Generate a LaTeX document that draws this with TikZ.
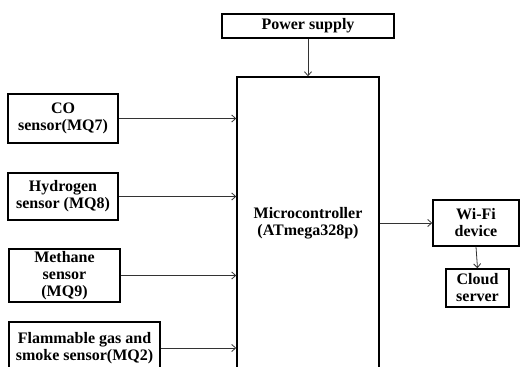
\documentclass[tikz,border=0pt]{standalone}
\usepackage{fontspec}
\setmainfont{Liberation Serif}
\usetikzlibrary{arrows.meta}
\begin{document}
\begin{tikzpicture}[x=1pt,y=-1pt,
  blk/.style={draw=black,line width=1.4pt,rectangle,inner sep=0pt,align=center,
    font=\fontsize{16}{17}\selectfont\bfseries},
  conn/.style={draw=black!80,line width=0.8pt,-{Straight Barb[length=4pt,width=7pt]}}]
\useasboundingbox (0,0) rectangle (520,367);
\node[blk,minimum width=172pt,minimum height=24pt] (ps) at (308,26) {Power supply};
\node[blk,minimum width=142pt,minimum height=292pt] (mc) at (308,223) {Microcontroller\\(ATmega328p)};
\node[blk,minimum width=110pt,minimum height=49pt] (co) at (63,118.5) {CO\\sensor(MQ7)};
\node[blk,minimum width=110pt,minimum height=47pt] (h2) at (63,196.5) {Hydrogen\\sensor (MQ8)};
\node[blk,minimum width=111pt,minimum height=53pt] (ch) at (64.5,275.5) {Methane\\sensor\\(MQ9)};
\node[blk,minimum width=151pt,minimum height=52pt] (fg) at (84.5,348) {Flammable gas and\\smoke sensor(MQ2)};
\node[blk,minimum width=86pt,minimum height=46pt] (wf) at (476,223) {Wi-Fi\\device};
\node[blk,minimum width=63pt,minimum height=38pt] (cl) at (477.5,288) {Cloud\\server};
\draw[conn] (ps.south) -- (mc.north);
\draw[conn] (co.east) -- (co.east -| mc.west);
\draw[conn] (h2.east) -- (h2.east -| mc.west);
\draw[conn] (ch.east) -- (ch.east -| mc.west);
\draw[conn] (fg.east) -- (fg.east -| mc.west);
\draw[conn] (mc.east) -- (wf.west);
\draw[conn] (wf.south) -- (cl.north);
\end{tikzpicture}
\end{document}
